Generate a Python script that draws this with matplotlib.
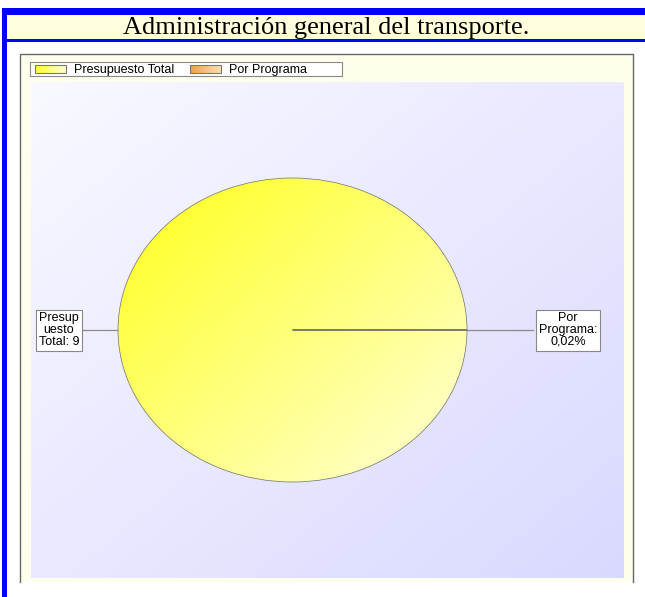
import numpy as np
import matplotlib
matplotlib.use('Agg')
import matplotlib.pyplot as plt
from matplotlib.patches import Rectangle
from matplotlib.colors import LinearSegmentedColormap

title = "Administración general del transporte."
categories = ["Presupuesto Total", "Por Programa"]
values = [99.98, 0.02]
slice_labels = ["Presup\nuesto\nTotal: 9", "Por\nPrograma:\n0,02%"]
legend_labels = ["Presupuesto Total", "Por Programa"]

W, H = 645, 597
fig = plt.figure(figsize=(W / 100, H / 100), dpi=100)
fig.patch.set_facecolor('white')
bg = fig.add_axes([0, 0, 1, 1])
bg.set_xlim(0, W)
bg.set_ylim(H, 0)
bg.axis('off')


def grad(ax, extent, c1, c2, zorder, clip=None, diag=True):
    n = 200
    x = np.linspace(0, 1, n)
    X, Y = np.meshgrid(x, x)
    t = (X + Y) / 2 if diag else X
    cmap = LinearSegmentedColormap.from_list('g', [c1, c2])
    im = ax.imshow(t, extent=extent, cmap=cmap, origin='upper', aspect='auto',
                   zorder=zorder, interpolation='bilinear', vmin=0, vmax=1)
    if clip is not None:
        im.set_clip_path(clip)
    return im


# title frame
bg.add_patch(Rectangle((2, 8), W - 2, 7, fc='#0000FF', ec='none', zorder=2))
bg.add_patch(Rectangle((7, 15), W - 7, 24, fc='#FFFFDD', ec='none', zorder=1))
bg.add_patch(Rectangle((2, 39), W - 2, 3, fc='#0000FF', ec='none', zorder=2))
bg.add_patch(Rectangle((2, 8), 5, H - 8, fc='#0000FF', ec='none', zorder=2))
bg.text(326, 28, title, ha='center', va='center', fontsize=19,
        family='Liberation Serif', color='black', zorder=3)

# chart panel
bg.add_patch(Rectangle((20, 54), 613, 528, fc='#FFFFEE', ec='none', zorder=1))
bg.plot([20, 20, 633, 633], [582, 54, 54, 582], color='#666666', lw=1, zorder=2)
grad(bg, (31, 624, 578, 82), '#F9F9FF', '#D9D9FF', 1.5)

# legend
bg.add_patch(Rectangle((30, 62), 312, 14, fc='white', ec='#888888', lw=0.8, zorder=3))
sw = Rectangle((35, 65), 31, 8, fc='none', ec='#777777', lw=0.8, zorder=5)
bg.add_patch(sw)
grad(bg, (35, 66, 73, 65), '#FFFF30', '#FFFFD0', 4, clip=sw, diag=False)
sw2 = Rectangle((190, 65), 31, 8, fc='none', ec='#777777', lw=0.8, zorder=5)
bg.add_patch(sw2)
grad(bg, (190, 221, 73, 65), '#F2A040', '#FFE0B0', 4, clip=sw2, diag=False)
bg.text(74, 69.5, legend_labels[0], ha='left', va='center', fontsize=9,
        family='Liberation Sans', zorder=5)
bg.text(229, 69.5, legend_labels[1], ha='left', va='center', fontsize=9,
        family='Liberation Sans', zorder=5)

# pie
x0, x1, y0, y1 = 118, 467, 178, 482
ax = fig.add_axes([x0 / W, 1 - y1 / H, (x1 - x0) / W, (y1 - y0) / H])
ax.set_facecolor('none')
start = 180 - values[0] * 3.6 / 2
wedges, _ = ax.pie(values, startangle=start, counterclock=True,
                   colors=['none', 'none'],
                   wedgeprops=dict(edgecolor='#707070', linewidth=0.5, zorder=3, clip_on=False))
ax.set_aspect('auto')
ax.set_xlim(-1, 1)
ax.set_ylim(-1, 1)
ax.axis('off')
grad(ax, (-1, 1, -1, 1), '#FFFF1A', '#FFFFDA', 2, clip=wedges[0])
grad(ax, (-1, 1, -1, 1), '#F2A040', '#FFE0B0', 2, clip=wedges[1])

sx = 2 / (x1 - x0)  # data units per pixel
# left label
lx = -1 - (118 - 59) * sx
ax.plot([lx + 24 * sx, -1], [0, 0], color='#8a8a8a', lw=0.9, clip_on=False, zorder=1)
ax.text(lx, 0, slice_labels[0], ha='center', va='center', multialignment='center',
        fontsize=9, family='Liberation Sans', linespacing=1.0, zorder=6,
        bbox=dict(boxstyle='square,pad=0.2', fc='white', ec='#888888', lw=0.8))
# right label
rx = 1 + (568 - 467) * sx
ax.plot([1, rx - 35 * sx], [0, 0], color='#8a8a8a', lw=0.9, clip_on=False, zorder=1)
ax.text(rx, 0, slice_labels[1], ha='center', va='center', multialignment='center',
        fontsize=9, family='Liberation Sans', linespacing=1.0, zorder=6,
        bbox=dict(boxstyle='square,pad=0.2', fc='white', ec='#888888', lw=0.8))

fig.savefig('out.png', dpi=100)
